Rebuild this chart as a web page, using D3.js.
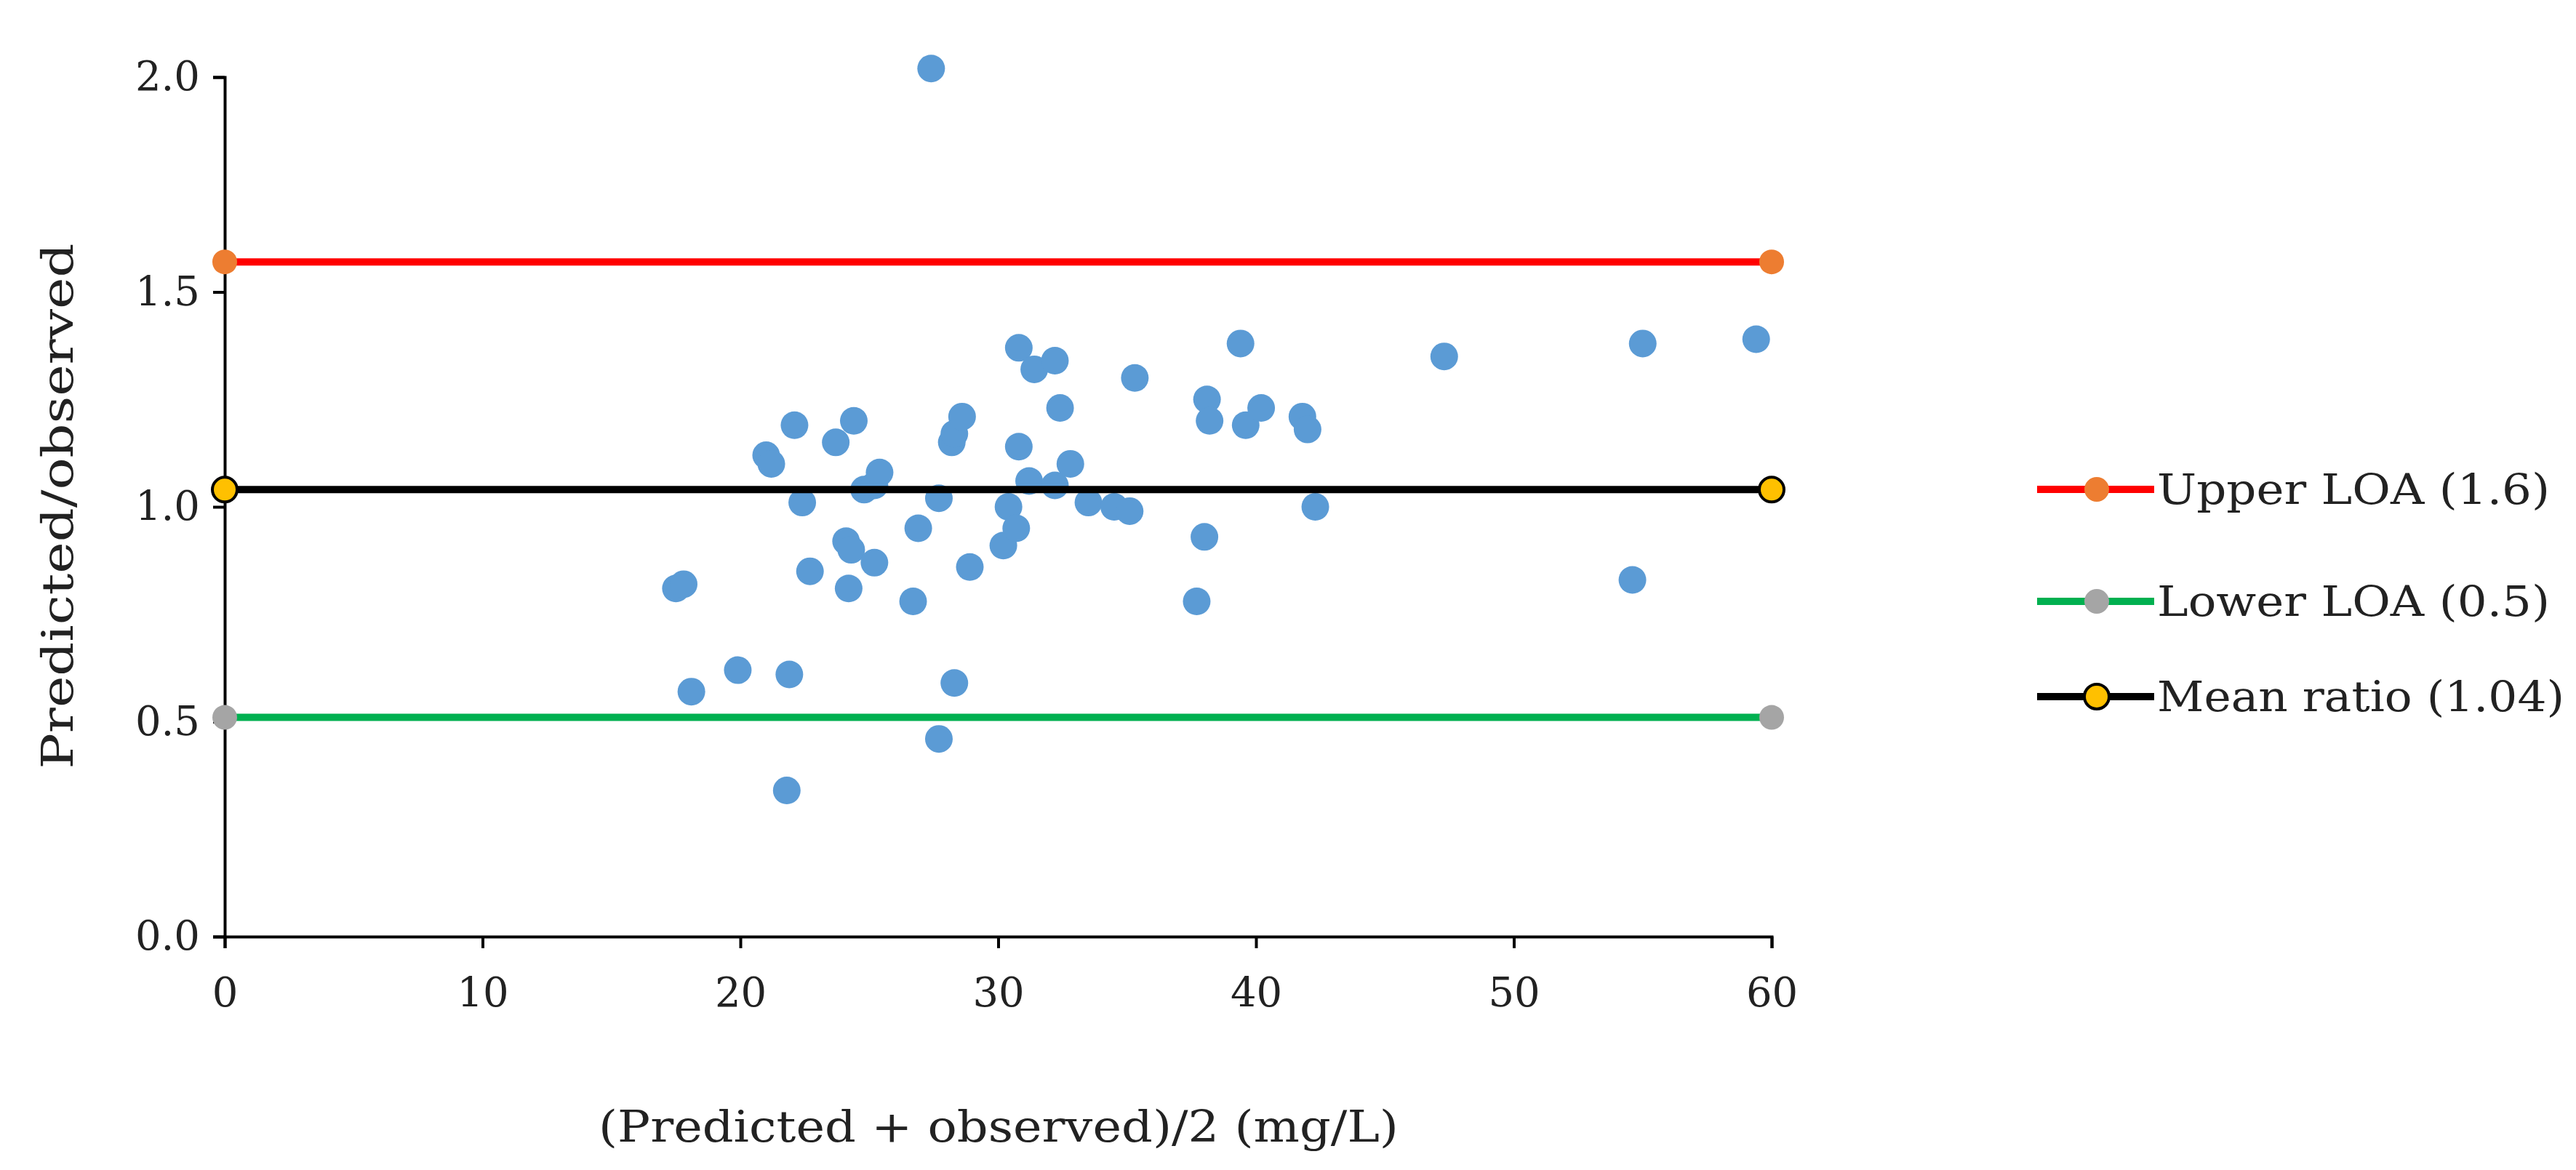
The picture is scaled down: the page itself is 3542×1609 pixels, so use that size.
<!DOCTYPE html>
<html><head><meta charset="utf-8">
<script src="https://cdn.jsdelivr.net/npm/d3@7"></script>
<style>body{margin:0;background:#fff}</style></head>
<body><svg id="c" width="3542" height="1609"></svg>
<script>
const xValues=[27.4,17.5,17.8,18.1,19.9,21.9,21.8,21.0,21.2,22.1,22.4,22.7,23.7,24.4,24.1,24.3,24.2,24.8,25.2,25.4,25.2,26.9,26.7,27.7,27.7,28.2,28.3,28.6,28.3,28.9,30.2,30.4,30.7,30.8,30.8,31.4,31.2,32.2,32.2,32.4,32.8,33.5,34.5,35.1,35.3,38.0,37.7,38.1,38.2,39.4,39.6,40.2,41.8,42.0,42.3,47.3,54.6,55.0,59.4];
const yValues=[2.02,0.81,0.82,0.57,0.62,0.61,0.34,1.12,1.10,1.19,1.01,0.85,1.15,1.20,0.92,0.90,0.81,1.04,1.05,1.08,0.87,0.95,0.78,1.02,0.46,1.15,1.17,1.21,0.59,0.86,0.91,1.00,0.95,1.14,1.37,1.32,1.06,1.05,1.34,1.23,1.10,1.01,1.00,0.99,1.30,0.93,0.78,1.25,1.20,1.38,1.19,1.23,1.21,1.18,1.00,1.35,0.83,1.38,1.39];
const refNames=["Upper LOA (1.6)","Lower LOA (0.5)","Mean ratio (1.04)"];
const refValues=[1.57,0.51,1.04];
const refLine=["#ff0000","#00b050","#000000"];
const refMarker=["#ed7d31","#a5a5a5","#ffc000"];
const xTicks=[0,10,20,30,40,50,60];
const yTicks=[0,0.5,1.0,1.5,2.0];

const svg=d3.select("#c");
const x=d3.scaleLinear().domain([0,60]).range([309,2436]);
const y=d3.scaleLinear().domain([0,2]).range([1288,106]);
const font="'DejaVu Serif', serif";

const xa=svg.append("g").attr("transform","translate(0,1288)")
 .call(d3.axisBottom(x).tickValues(xTicks).tickFormat(d3.format("d")).tickSize(16).tickPadding(40));
const ya=svg.append("g").attr("transform","translate(309,0)")
 .call(d3.axisLeft(y).tickValues(yTicks).tickFormat(d3.format(".1f")).tickSize(16).tickPadding(18));
[xa,ya].forEach(a=>{a.select(".domain").attr("stroke","#000").attr("stroke-width",4);
 a.selectAll(".tick line").attr("stroke","#000").attr("stroke-width",4);
 a.selectAll("text").attr("font-family",font).attr("font-size",56).attr("fill","#222");});

const pts=xValues.map((v,i)=>[v,yValues[i]]);
svg.append("g").selectAll("circle").data(pts).join("circle")
 .attr("cx",d=>x(d[0])).attr("cy",d=>y(d[1])).attr("r",19).attr("fill","#5b9bd5");

refValues.forEach((v,i)=>{
 svg.append("line").attr("x1",x(0)).attr("x2",x(60)).attr("y1",y(v)).attr("y2",y(v))
  .attr("stroke",refLine[i]).attr("stroke-width",10);
 [0,60].forEach(e=>svg.append("circle").attr("cx",x(e)).attr("cy",y(v)).attr("r",17)
  .attr("fill",refMarker[i]).attr("stroke",i==2?"#000":"none").attr("stroke-width",4));
});

const ly=[673,827,958];
refNames.forEach((n,i)=>{
 svg.append("line").attr("x1",2801).attr("x2",2962).attr("y1",ly[i]).attr("y2",ly[i])
  .attr("stroke",refLine[i]).attr("stroke-width",10);
 svg.append("circle").attr("cx",2883).attr("cy",ly[i]).attr("r",17).attr("fill",refMarker[i])
  .attr("stroke",i==2?"#000":"none").attr("stroke-width",4);
 svg.append("text").attr("x",2966).attr("y",ly[i]).attr("dy","0.35em").attr("font-family",font)
  .attr("font-size",58).attr("fill","#222").attr("textLength",i==2?560:540)
  .attr("lengthAdjust","spacingAndGlyphs").text(n);
});

svg.append("text").attr("x",1373).attr("y",1570).attr("text-anchor","middle").attr("font-family",font)
 .attr("font-size",60).attr("fill","#222").attr("textLength",1100).attr("lengthAdjust","spacingAndGlyphs")
 .text("(Predicted + observed)/2 (mg/L)");
svg.append("text").attr("transform","translate(100,696) rotate(-90)").attr("text-anchor","middle")
 .attr("font-family",font).attr("font-size",60).attr("fill","#222").attr("textLength",723)
 .attr("lengthAdjust","spacingAndGlyphs").text("Predicted/observed");
</script></body></html>
